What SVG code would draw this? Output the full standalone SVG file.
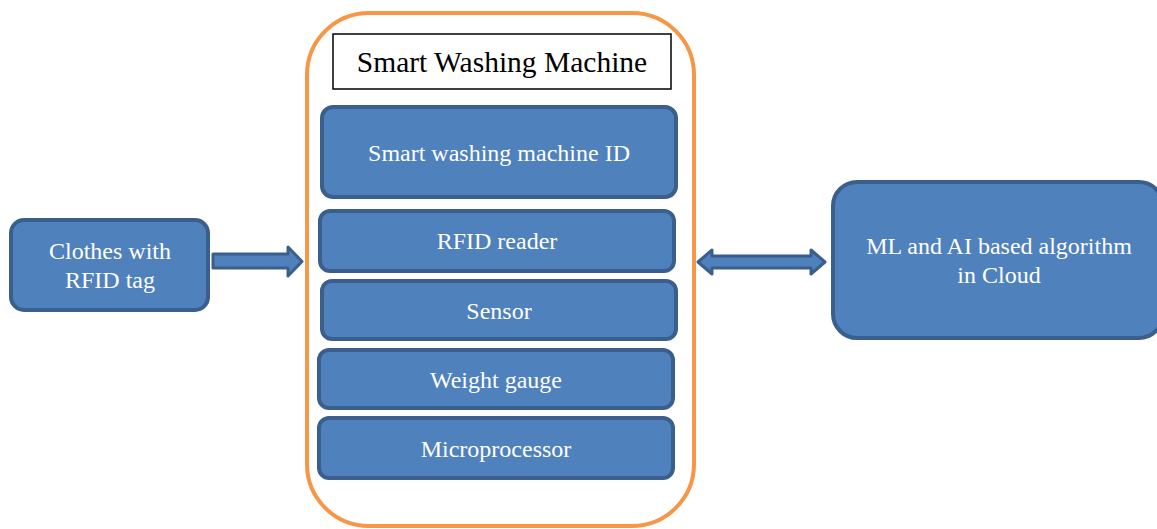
<svg xmlns="http://www.w3.org/2000/svg" width="1157" height="529" viewBox="0 0 1157 529">
<style>
.blk{fill:#4F81BD;stroke:#3A5F8C;stroke-width:4}
.lbl{font-family:"Liberation Serif","Times New Roman",serif;font-size:24px;fill:#FFFFFF;text-anchor:middle}
.ttl{font-family:"Liberation Serif","Times New Roman",serif;font-size:29.5px;fill:#000000;text-anchor:middle}
.arr{fill:#4F81BD;stroke:#3A5F8C;stroke-width:3;stroke-linejoin:round}
</style>
<rect width="1157" height="529" fill="#FFFFFF"/>
<g id="container">
<rect x="307" y="13" width="387" height="513" rx="62" ry="62" fill="none" stroke="#F79646" stroke-width="4"/>
</g>
<g id="title">
<rect x="333" y="34" width="338" height="55" fill="#FFFFFF" stroke="#000000" stroke-width="1.5"/>
<text class="ttl" x="502" y="72">Smart Washing Machine</text>
</g>
<g id="machine-id">
<rect class="blk" x="322" y="107" width="354" height="90" rx="11"/>
<text class="lbl" x="499" y="161">Smart washing machine ID</text>
</g>
<g id="rfid-reader">
<rect class="blk" x="320" y="211" width="354" height="60" rx="10"/>
<text class="lbl" x="497" y="249">RFID reader</text>
</g>
<g id="sensor">
<rect class="blk" x="322" y="281" width="354" height="58" rx="10"/>
<text class="lbl" x="499" y="319">Sensor</text>
</g>
<g id="weight-gauge">
<rect class="blk" x="319" y="350" width="354" height="58" rx="10"/>
<text class="lbl" x="496" y="388">Weight gauge</text>
</g>
<g id="microprocessor">
<rect class="blk" x="319" y="418" width="354" height="60" rx="10"/>
<text class="lbl" x="496" y="457">Microprocessor</text>
</g>
<g id="clothes">
<rect class="blk" x="11" y="220" width="197" height="90" rx="13"/>
<text class="lbl" x="110" y="259">Clothes with</text>
<text class="lbl" x="110" y="288">RFID tag</text>
</g>
<g id="cloud">
<rect class="blk" x="833" y="182" width="330" height="156" rx="24"/>
<text class="lbl" x="999" y="254">ML and AI based algorithm</text>
<text class="lbl" x="999" y="283">in Cloud</text>
</g>
<g id="connectors">
<path class="arr" d="M213,254 L288,254 L288,247 L302,261.5 L288,276 L288,268 L213,268 Z"/>
<path class="arr" d="M698,262 L712,250 L712,256 L811,256 L811,250 L825,262 L811,274 L811,268 L712,268 L712,274 Z"/>
</g>
</svg>
